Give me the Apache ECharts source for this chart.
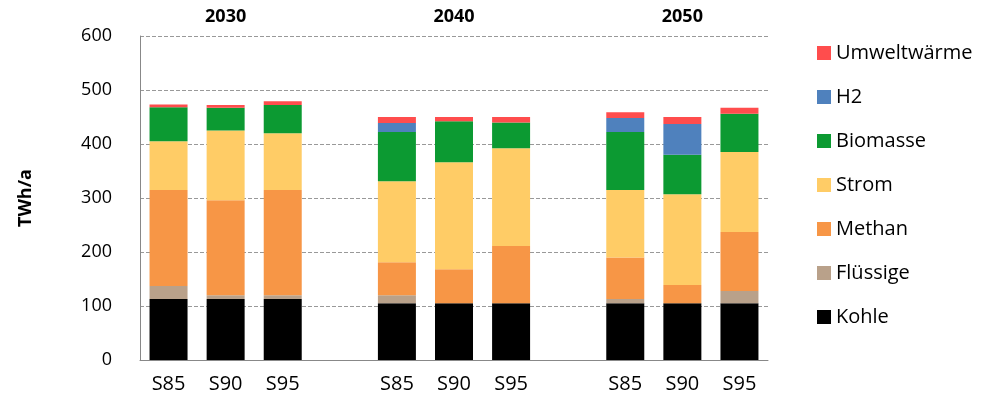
<!DOCTYPE html>
<html>
<head>
<meta charset="UTF-8">
<title></title>
<script src="https://cdn.jsdelivr.net/npm/echarts@6/dist/echarts.min.js"></script>
</head>
<body style="margin:0">
<div id="chart" style="width:1001px;height:410px;"></div>
<script>
// categories, empty slot between the year groups
var categories = ['S85', 'S90', 'S95', '', 'S85', 'S90', 'S95', '', 'S85', 'S90', 'S95'];
var years = ['', '2030', '', '', '', '2040', '', '', '', '2050', ''];
var kohle     = [113, 113, 113, null, 105, 105, 105, null, 105, 105, 105];
var fluessige = [24, 7, 7, null, 15, 0, 0, null, 8, 0, 23];
var methan    = [178, 176, 195, null, 61, 63, 106, null, 77, 34, 109];
var strom     = [90, 129, 105, null, 150, 198, 181, null, 125, 168, 148];
var biomasse  = [63, 42, 52, null, 91, 76, 48, null, 107, 73, 71];
var h2        = [0, 0, 0, null, 17, 0, 0, null, 26, 57, 0];
var umwelt    = [5, 5, 7, null, 11, 8, 10, null, 11, 13, 11];

var chart = echarts.init(document.getElementById('chart'));
var font = 'Open Sans';
function s(name, data, color) {
    return {name: name, type: 'bar', stack: 'a', data: data, barWidth: 38,
        itemStyle: {color: color}};
}
chart.setOption({
    textStyle: {fontFamily: font},
    grid: {left: 140, right: 233, top: 36, bottom: 50},
    legend: {
        orient: 'vertical', left: 812, top: 38, itemGap: 24,
        itemWidth: 14, itemHeight: 14, icon: 'rect',
        textStyle: {fontSize: 20, color: '#000', fontFamily: font},
        data: ['Umweltwärme', 'H2', 'Biomasse', 'Strom', 'Methan', 'Flüssige', 'Kohle']
    },
    xAxis: [{
        type: 'category', data: categories,
        axisTick: {show: false}, axisLine: {lineStyle: {color: '#888'}},
        axisLabel: {fontSize: 20, color: '#000', margin: 14}
    }, {
        type: 'category', data: years, position: 'top',
        axisTick: {show: false}, axisLine: {show: false},
        axisLabel: {fontSize: 18, fontWeight: 'bold', color: '#000', margin: 10, interval: 0}
    }],
    yAxis: {
        type: 'value', min: 0, max: 600, interval: 100,
        name: 'TWh/a', nameLocation: 'middle', nameGap: 105, nameRotate: 90,
        nameTextStyle: {fontSize: 18, fontWeight: 'bold', color: '#000'},
        axisLabel: {fontSize: 18, color: '#000', margin: 28},
        axisLine: {show: true, lineStyle: {color: '#888'}},
        splitLine: {lineStyle: {type: 'dashed', color: '#999'}}
    },
    series: [
        s('Kohle', kohle, '#000000'),
        s('Flüssige', fluessige, '#b9a18a'),
        s('Methan', methan, '#f79646'),
        s('Strom', strom, '#ffcc66'),
        s('Biomasse', biomasse, '#0c9a32'),
        s('H2', h2, '#4f81bd'),
        s('Umweltwärme', umwelt, '#ff4d4d')
    ]
});
</script>
</body>
</html>
